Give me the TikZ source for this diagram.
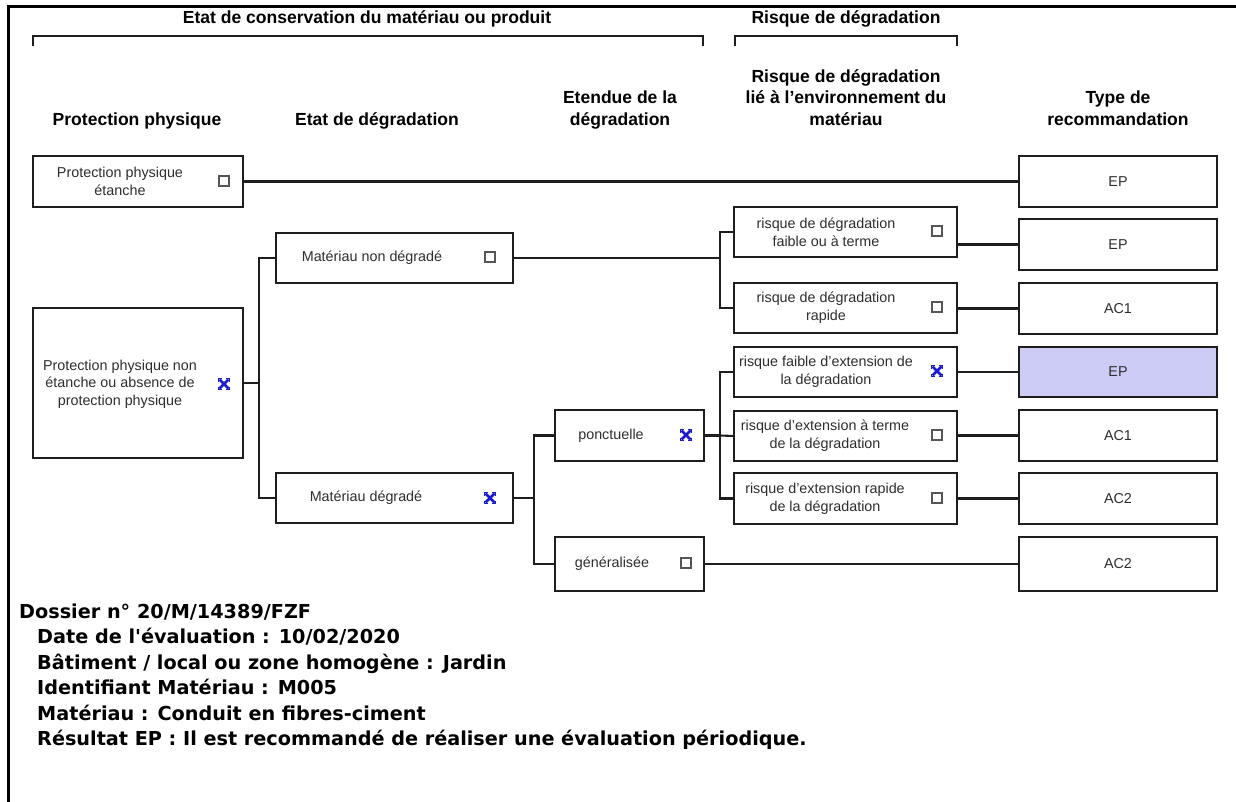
\documentclass[tikz,border=0pt]{standalone}
\usepackage{fontspec}
\setmainfont{Liberation Sans}
\newfontfamily\verdfont{DejaVu Sans}
\definecolor{ink}{RGB}{30,30,30}
\definecolor{txt}{RGB}{45,45,45}
\definecolor{pick}{RGB}{204,204,246}
\definecolor{xblue}{RGB}{25,25,205}
\tikzset{
  box/.style={draw=ink, line width=2.3bp, inner sep=0, outer sep=0},
  lbl/.style={text=txt, font=\fontsize{14.4}{17.7}\selectfont, align=center, inner sep=0},
  hdr/.style={font=\fontsize{17.6}{21.5}\selectfont\bfseries, align=center, inner sep=0, anchor=south},
  ttl/.style={font=\fontsize{17.6}{20}\selectfont\bfseries, inner sep=0, anchor=base},
  link/.style={draw=ink, line width=2.1bp},
  brk/.style={draw=ink, line width=1.9bp},
  chk/.style={draw=ink!75, line width=1.1bp, minimum size=10bp, inner sep=0},
  % ticked box: bold blue cross with corner marks
  xmk/.style={minimum size=13bp, inner sep=0, path picture={
      \draw[xblue, line width=2.7bp]
        ([shift={(2bp,2bp)}]path picture bounding box.south west) -- ([shift={(-2bp,-2bp)}]path picture bounding box.north east)
        ([shift={(-2bp,2bp)}]path picture bounding box.south east) -- ([shift={(2bp,-2bp)}]path picture bounding box.north west);
      \draw[xblue, line width=1.3bp]
        ([shift={(0.7bp,-4bp)}]path picture bounding box.north west) -- ++(0,3.3bp) -- ++(3.5bp,0)
        ([shift={(-0.7bp,-4bp)}]path picture bounding box.north east) -- ++(0,3.3bp) -- ++(-3.5bp,0)
        ([shift={(0.7bp,4bp)}]path picture bounding box.south west) -- ++(0,-3.3bp) -- ++(3.5bp,0)
        ([shift={(-0.7bp,4bp)}]path picture bounding box.south east) -- ++(0,-3.3bp) -- ++(-3.5bp,0);}},
  info/.style={font=\verdfont\bfseries\fontsize{19.3}{25.6}\selectfont, anchor=base west, inner sep=0},
}
\begin{document}
\begin{tikzpicture}[x=1bp, y=-1bp]
\useasboundingbox (0,0) rectangle (1236,802);
% page frame (top and left edges)
\draw[line width=3bp] (8,802) -- (8,7) -- (1236,7);

% group titles and their brackets
\node[ttl] (t1) at (367,24) {Etat de conservation du matériau ou produit};
\node[ttl] (t2) at (846,24) {Risque de dégradation};
\draw[brk] (33,46) -- (33,36) -- (703,36) -- (703,46);
\draw[brk] (735,46) -- (735,36) -- (957,36) -- (957,46);

% column headers
\node[hdr] (h1) at (137,132) {Protection physique\strut};
\node[hdr] (h2) at (377,132) {Etat de dégradation\strut};
\node[hdr] (h3) at (620,132) {Etendue de la\\dégradation\strut};
\node[hdr] (h4) at (846,132) {Risque de dégradation\\lié à l'environnement du\\matériau\strut};
\node[hdr] (h5) at (1118,132) {Type de\\recommandation\strut};

% protection physique
\node[box, minimum width=210bp, minimum height=51bp] (b1) at (138,181.5) {};
\node[lbl] at (120,181.5) {Protection physique\\étanche};
\node[chk] at (224,181) {};
\node[box, minimum width=210bp, minimum height=150bp] (b2) at (138,383) {};
\node[lbl] at (120,384) {Protection physique non\\étanche ou absence de\\protection physique};
\node[xmk] at (224,384) {};

% etat de degradation
\node[box, minimum width=237bp, minimum height=50bp] (b3) at (394.5,258) {};
\node[lbl] at (372,258) {Matériau non dégradé};
\node[chk] at (490,257) {};
\node[box, minimum width=237bp, minimum height=50bp] (b4) at (394.5,498) {};
\node[lbl] at (366,498) {Matériau dégradé};
\node[xmk] at (490,498) {};

% etendue
\node[box, minimum width=149bp, minimum height=51bp] (b5) at (629.5,435.5) {};
\node[lbl] at (611,435.5) {ponctuelle};
\node[xmk] at (686,435) {};
\node[box, minimum width=149bp, minimum height=54bp] (b6) at (629.5,564) {};
\node[lbl] at (612,564) {généralisée};
\node[chk] at (686,563) {};

% risque lie a l'environnement
\node[box, minimum width=223bp, minimum height=50bp] (b7) at (845.5,232) {};
\node[lbl] at (826,232) {risque de dégradation\\faible ou à terme};
\node[chk] at (937,231) {};
\node[box, minimum width=223bp, minimum height=50bp] (b8) at (845.5,308) {};
\node[lbl] at (826,308) {risque de dégradation\\rapide};
\node[chk] at (937,307) {};
\node[box, minimum width=223bp, minimum height=50bp] (b9) at (845.5,372) {};
\node[lbl] at (826,372) {risque faible d'extension de\\la dégradation};
\node[xmk] at (937,371) {};
\node[box, minimum width=223bp, minimum height=50bp] (b10) at (845.5,436) {};
\node[lbl] at (825,436) {risque d'extension à terme\\de la dégradation};
\node[chk] at (937,435) {};
\node[box, minimum width=223bp, minimum height=51bp] (b11) at (845.5,498.5) {};
\node[lbl] at (825,498.5) {risque d'extension rapide\\de la dégradation};
\node[chk] at (937,498) {};

% type de recommandation
\node[box, minimum width=198bp, minimum height=51bp] (r1) at (1118,181.5) {};
\node[lbl] at (1118,181.5) {EP};
\node[box, minimum width=198bp, minimum height=51bp] (r2) at (1118,244.5) {};
\node[lbl] at (1118,244.5) {EP};
\node[box, minimum width=198bp, minimum height=51bp] (r3) at (1118,308.5) {};
\node[lbl] at (1118,308.5) {AC1};
\node[box, fill=pick, minimum width=198bp, minimum height=50bp] (r4) at (1118,372) {};
\node[lbl] at (1118,372) {EP};
\node[box, minimum width=198bp, minimum height=51bp] (r5) at (1118,435.5) {};
\node[lbl] at (1118,435.5) {AC1};
\node[box, minimum width=198bp, minimum height=51bp] (r6) at (1118,498.5) {};
\node[lbl] at (1118,498.5) {AC2};
\node[box, minimum width=198bp, minimum height=54bp] (r7) at (1118,564) {};
\node[lbl] at (1118,564) {AC2};

% connectors
\draw[link] (b1.east) -- (r1.west);
\coordinate (j1) at (259,383);
\draw[link] (b2.east |- j1) -- (j1);
\draw[link] (b3.west) -| (j1) |- (b4.west);
\coordinate (j2) at (720,258);
\draw[link] (b3.east) -- (j2);
\draw[link] (b7.west) -| (j2) |- (b8.west);
\coordinate (j3) at (534,498);
\draw[link] (b4.east) -- (j3);
\draw[link] (b5.west) -| (j3) |- (b6.west);
\coordinate (j4) at (720,435.5);
\draw[link] (b5.east) -- (j4);
\draw[link] (b9.west) -| (j4) |- (b11.west);
\draw[link] (j4) -- (b10.west);
\draw[link] (b6.east) -- (r7.west);
\draw[link] (r2.west -| b7.east) -- (r2.west);
\draw[link] (r3.west -| b8.east) -- (r3.west);
\draw[link] (r4.west -| b9.east) -- (r4.west);
\draw[link] (r5.west -| b10.east) -- (r5.west);
\draw[link] (r6.west -| b11.east) -- (r6.west);

% dossier information
\node[info] (i1) at (19,618) {Dossier n° 20/M/14389/FZF};
\node[info] (i2) at (37,643.5) {Date de l'évaluation : 10/02/2020};
\node[info] (i3) at (37,669) {Bâtiment / local ou zone homogène : Jardin};
\node[info] (i4) at (37,694.5) {Identifiant Matériau : M005};
\node[info] (i5) at (37,720) {Matériau : Conduit en fibres-ciment};
\node[info] (i6) at (37,745.5) {Résultat EP : Il est recommandé de réaliser une évaluation périodique.};
\end{tikzpicture}
\end{document}
